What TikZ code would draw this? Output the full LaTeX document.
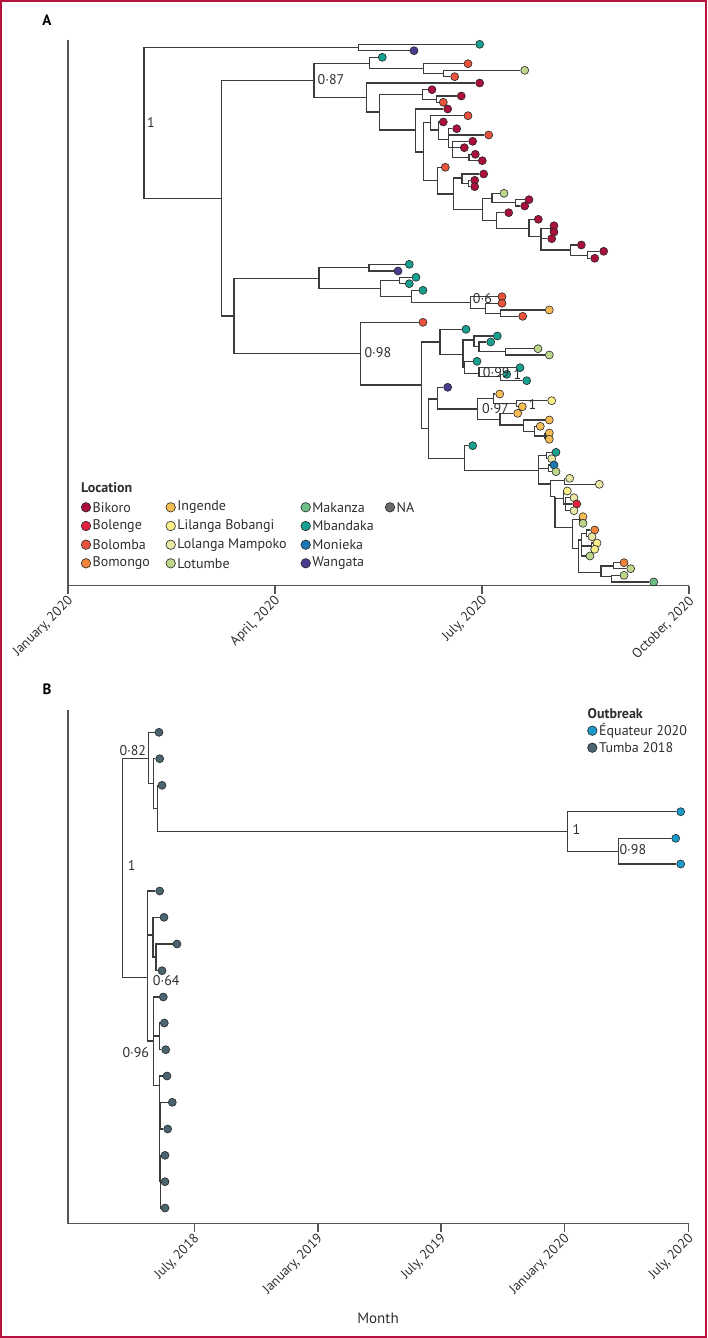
\documentclass[tikz,border=0pt]{standalone}
\usepackage{fontspec}
\setmainfont{PT Sans}
\usetikzlibrary{backgrounds}
\definecolor{framec}{HTML}{B5123F}
\definecolor{linec}{HTML}{3C3C3C}
\definecolor{axisc}{HTML}{555555}
\definecolor{txtc}{HTML}{2E2E2E}
\definecolor{BK}{HTML}{AA103C}
\definecolor{BL}{HTML}{E4203F}
\definecolor{BM}{HTML}{E8533C}
\definecolor{BG}{HTML}{F0843A}
\definecolor{IN}{HTML}{F7BD55}
\definecolor{LB}{HTML}{FAEE88}
\definecolor{LM}{HTML}{E8E8A4}
\definecolor{LT}{HTML}{BCD68A}
\definecolor{MK}{HTML}{6DBE86}
\definecolor{MB}{HTML}{17A08F}
\definecolor{MO}{HTML}{1A78B4}
\definecolor{WA}{HTML}{4B3B8C}
\definecolor{NAc}{HTML}{6A6A6A}
\definecolor{EQ}{HTML}{1A9AC8}
\definecolor{TU}{HTML}{4A6470}
\tikzset{
  br/.style={draw=linec, line width=1.1pt},
  tipc/.style={circle, draw=black!85, line width=0.6pt, minimum size=8pt, inner sep=0pt},
  legc/.style={circle, draw=black!85, line width=0.6pt, minimum size=9.5pt, inner sep=0pt},
  lab/.style={font=\fontsize{14}{16}\selectfont, text=txtc, inner sep=0pt, anchor=west},
  legt/.style={font=\fontsize{14}{16}\selectfont, text=txtc, inner sep=0pt, anchor=west},
  legh/.style={font=\bfseries\fontsize{14}{16}\selectfont, text=txtc, inner sep=0pt, anchor=west},
  ticklab/.style={font=\fontsize{13.5}{15}\selectfont, text=txtc, inner sep=0pt, anchor=east, rotate=45},
  axl/.style={draw=axisc, line width=1.3pt},
  panel/.style={font=\bfseries\fontsize{15}{17}\selectfont, text=black, inner sep=0pt},
}
\newcommand{\tp}[4]{\node[tipc,fill=#4] (#1) at (#2,#3) {};}
\newcommand{\cn}[3]{\coordinate (#1) at (#2,#3);}
\newcommand{\eds}[2]{\foreach \c in {#2} {\draw[br] (#1) |- (\c);}}
\begin{document}
\begin{tikzpicture}[x=1pt,y=-1pt]
\useasboundingbox (0,0) rectangle (707,1338);
\draw[framec, line width=2pt] (1,1) rectangle (706,1337);

% ================= PANEL A =================
\node[panel] (pA) at (47,20) {A};
\coordinate (Ayt) at (68,40);
\coordinate (Ao) at (68,585.5);
\coordinate (Axe) at (689,585.5);
\draw[axl] (Ayt) -- (Ao) -- (Axe);
\foreach \x/\t in {68/{January, 2020},275/{April, 2020},482/{July, 2020},689/{October, 2020}}{
  \draw[axl] (\x,585.5) -- (\x,593.5);
  \node[ticklab] at (\x+3,599) {\t};
}

% internal nodes
\cn{R}{144}{122.8}
\cn{N1}{358.3}{47.3}
\cn{N2}{221.7}{198.3}
\cn{N087}{314}{80.7}
\cn{N3}{369.3}{63.3}
\cn{N4}{423.3}{68.7}
\cn{N5}{443.3}{73.3}
\cn{N6}{366.7}{97.7}
\cn{N7}{379.3}{112}
\cn{N8}{422.7}{94.3}
\cn{N10}{436.7}{99.3}
\cn{N9}{415.3}{130}
\cn{N11}{423.3}{152}
\cn{N12}{430.7}{122.7}
\cn{N14}{438.3}{130}
\cn{N15}{448.7}{139.7}
\cn{N17}{452.7}{147.3}
\cn{N18}{469}{157.3}
\cn{N13}{437.3}{180.7}
\cn{N19}{453.3}{194}
\cn{N20}{462}{178}
\cn{N22}{468.7}{183.3}
\cn{N21}{482.7}{209.3}
\cn{N23}{492}{198.7}
\cn{N25}{515.7}{202.7}
\cn{N24}{496.7}{220.3}
\cn{N26}{529}{228.3}
\cn{N27}{541}{236.7}
\cn{N28}{550.7}{228.7}
\cn{N29}{570.3}{250}
\cn{N30}{587.3}{255.3}
\cn{N31}{234}{316}
\cn{N32}{319}{278.3}
\cn{N33}{369}{267.3}
\cn{N34}{380.3}{288.7}
\cn{N35}{399.3}{280.7}
\cn{N36}{411.7}{296.7}
\cn{N06}{470.7}{302.3}
\cn{N37}{485.7}{308.3}
\cn{N38}{500.7}{313.3}
\cn{N098}{360.7}{353.7}
\cn{N39}{421.7}{385}
\cn{N40}{440}{342}
\cn{N42}{463}{354.3}
\cn{N43}{474}{340}
\cn{N45}{479}{346.7}
\cn{N46}{505.7}{351.7}
\cn{N44}{464.3}{367.3}
\cn{N099}{479}{373.3}
\cn{N1b}{500.7}{376.7}
\cn{N41}{428.3}{428.3}
\cn{N47}{437.3}{399}
\cn{N097}{477.3}{409}
\cn{N49}{493.3}{398.3}
\cn{N1c}{516.7}{403.7}
\cn{N50}{500}{419.3}
\cn{N51}{523.3}{425}
\cn{N52}{534.3}{431.7}
\cn{N53}{545}{436}
\cn{N48}{464.3}{458.3}
\cn{N54}{538.3}{470.7}
\cn{N55}{546.7}{455.3}
\cn{N56}{548.7}{468.3}
\cn{N57}{550.7}{484}
\cn{N58}{564.3}{480.7}
\cn{N59}{555}{496.7}
\cn{N60}{563.3}{498.3}
\cn{N62}{565.7}{504}
\cn{N61}{572.3}{527.3}
\cn{N63}{580}{519.3}
\cn{N64}{578.3}{548.3}
\cn{N65}{581.7}{540}
\cn{N67}{586.7}{533.3}
\cn{N68}{591.7}{546}
\cn{N66}{601}{572.7}
\cn{N69}{613.3}{566}
\cn{N70}{611.3}{576.7}

% tips
\tp{a1}{479.7}{44.3}{MB}
\tp{a2}{414}{50.7}{WA}
\tp{b1}{382.3}{57.3}{MB}
\tp{b2}{468}{63.7}{BM}
\tp{b3}{524.7}{70.3}{LT}
\tp{b4}{454.7}{76.7}{BM}
\tp{c1}{479.7}{83}{BK}
\tp{c2}{432}{89.7}{BK}
\tp{c3}{461.3}{96}{BK}
\tp{c4}{443.3}{102.3}{BM}
\tp{c5}{447.7}{109}{BK}
\tp{d1}{468}{115.7}{BM}
\tp{d2}{443.3}{122}{BK}
\tp{d3}{456.7}{128.7}{BK}
\tp{d4}{488.7}{135}{BM}
\tp{d5}{472.7}{141.3}{BK}
\tp{d6}{464.3}{147.7}{BK}
\tp{d7}{475.3}{154.3}{BK}
\tp{d8}{482.3}{160.7}{BK}
\tp{e1}{445.3}{167.3}{BM}
\tp{e2}{483.7}{174}{BK}
\tp{e3}{474.7}{180.3}{BK}
\tp{e4}{474.7}{186.7}{BK}
\tp{f1}{504}{193.3}{LT}
\tp{f2}{529}{199.7}{BK}
\tp{f3}{524.7}{206}{BK}
\tp{f4}{508.7}{212.7}{BK}
\tp{f5}{538.3}{219.3}{BK}
\tp{f6}{554}{225.7}{BK}
\tp{f7}{554}{232}{BK}
\tp{f8}{551.7}{238.7}{BK}
\tp{f9}{581.3}{245}{BK}
\tp{f10}{603.7}{251.3}{BK}
\tp{f11}{594.7}{258.3}{BK}
\tp{g1}{409.3}{264.3}{MB}
\tp{g2}{398}{271}{WA}
\tp{g3}{416}{277.3}{MB}
\tp{g4}{409.3}{283.7}{MB}
\tp{g5}{423}{290.3}{MB}
\tp{h1}{502}{296.7}{BM}
\tp{h2}{502}{303.3}{BM}
\tp{h3}{549.3}{310}{IN}
\tp{h4}{522.7}{316.3}{BM}
\tp{i1}{423}{322.3}{BM}
\tp{i2}{466}{329.3}{MB}
\tp{j1}{497.3}{336}{MB}
\tp{j2}{490.7}{342}{MB}
\tp{j3}{538}{348.7}{LT}
\tp{j4}{549.3}{355}{LT}
\tp{k1}{477}{361.3}{MB}
\tp{k2}{520}{367.7}{MB}
\tp{k3}{506.7}{374.3}{MB}
\tp{k4}{526.7}{380.7}{MB}
\tp{l1}{447.7}{387.3}{WA}
\tp{m1}{499.7}{394}{IN}
\tp{m2}{551.7}{400.7}{LB}
\tp{m3}{522.3}{406.7}{IN}
\tp{m4}{517.7}{413.3}{IN}
\tp{m5}{549.3}{420}{IN}
\tp{m6}{540.3}{426.3}{IN}
\tp{m7}{549.3}{433}{IN}
\tp{m8}{549.3}{439.3}{IN}
\tp{n1}{472.7}{445.7}{MB}
\tp{n2}{556}{452.3}{MB}
\tp{n3}{551.7}{458.7}{LM}
\tp{n4}{554}{465}{MO}
\tp{n5}{556}{471.7}{LT}
\tp{n6}{569.7}{478.3}{LM}
\tp{n7}{599.3}{484.3}{LM}
\tp{o1}{567.3}{491}{LB}
\tp{o2}{574}{497.7}{LM}
\tp{o3}{576.7}{504}{BL}
\tp{o4}{574}{510.7}{LM}
\tp{p1}{583}{516.7}{IN}
\tp{p2}{583}{523.3}{LT}
\tp{p3}{594.7}{530}{BG}
\tp{p4}{592}{536.7}{LM}
\tp{p5}{597}{543}{LB}
\tp{p6}{594.7}{549.3}{LB}
\tp{p7}{590}{556}{LT}
\tp{q1}{624}{562.7}{BG}
\tp{q2}{630.7}{568.7}{LT}
\tp{q3}{624}{575.3}{LT}
\tp{q4}{653.7}{582}{MK}

\begin{pgfonlayer}{background}
\eds{R}{N1,N2}
\eds{N1}{a1,a2}
\eds{N2}{N087,N31}
\eds{N087}{N3,N6}
\eds{N3}{b1,N4}
\eds{N4}{b2,N5}
\eds{N5}{b3,b4}
\eds{N6}{c1,N7}
\eds{N7}{N8,N9}
\eds{N8}{c2,N10}
\eds{N10}{c3,c4}
\eds{N9}{c5,N11}
\eds{N11}{N12,N13}
\eds{N12}{d1,N14}
\eds{N14}{d2,N15}
\eds{N15}{d3,d4,N17}
\eds{N17}{d5,d6,N18}
\eds{N18}{d7,d8}
\eds{N13}{e1,N19}
\eds{N19}{N20,N21}
\eds{N20}{e2,N22}
\eds{N22}{e3,e4}
\eds{N21}{N23,N24}
\eds{N23}{f1,N25}
\eds{N25}{f2,f3}
\eds{N24}{f4,N26}
\eds{N26}{f5,N27}
\eds{N27}{N28,f8,N29}
\eds{N28}{f6,f7}
\eds{N29}{f9,N30}
\eds{N30}{f10,f11}
\eds{N31}{N32,N098}
\eds{N32}{N33,N34}
\eds{N33}{g1,g2}
\eds{N34}{N35,N36}
\eds{N35}{g3,g4}
\eds{N36}{g5,N06}
\eds{N06}{h1,N37}
\eds{N37}{h2,N38}
\eds{N38}{h3,h4}
\eds{N098}{i1,N39}
\eds{N39}{N40,N41}
\eds{N40}{i2,N42}
\eds{N42}{N43,N44}
\eds{N43}{j1,N45}
\eds{N45}{j2,N46}
\eds{N46}{j3,j4}
\eds{N44}{k1,N099}
\eds{N099}{k2,N1b}
\eds{N1b}{k3,k4}
\eds{N41}{N47,N48}
\eds{N47}{l1,N097}
\eds{N097}{N49,N50}
\eds{N49}{m1,N1c}
\eds{N1c}{m2,m3}
\eds{N50}{m4,N51}
\eds{N51}{m5,N52}
\eds{N52}{m6,N53}
\eds{N53}{m7,m8}
\eds{N48}{n1,N54}
\eds{N54}{N55,N56,N57}
\eds{N55}{n2,n3}
\eds{N56}{n4,n5}
\eds{N57}{N58,N59}
\eds{N58}{n6,n7}
\eds{N59}{N60,N61}
\eds{N60}{o1,N62}
\eds{N62}{o2,o3,o4}
\eds{N61}{N63,N64}
\eds{N63}{p1,p2}
\eds{N64}{N65,N66}
\eds{N65}{N67,N68,p7}
\eds{N67}{p3,p4}
\eds{N68}{p5,p6}
\eds{N66}{N69,N70}
\eds{N69}{q1,q2}
\eds{N70}{q3,q4}
\end{pgfonlayer}

% support labels A
\node[lab] (sR) at (147,122.3) {1};
\node[lab] (s087) at (317.5,79.3) {0·87};
\node[lab] (s06) at (472.7,299) {0·6};
\node[lab] (s098) at (364.3,352.3) {0·98};
\node[lab] (s099) at (482.7,372.7) {0·99};
\node[lab] (s1b) at (513.3,375) {1};
\node[lab] (s097) at (482,408.3) {0·97};
\node[lab] (s1c) at (528.3,405) {1};

% legend A
\node[legh] (locT) at (81,488) {Location};
\foreach \cx/\cy/\cc/\tt in {
 86/507.3/BK/Bikoro, 86/526/BL/Bolenge, 86/544.7/BM/Bolomba, 86/563.3/BG/Bomongo,
 170.7/507.3/IN/Ingende, 170.7/526/LB/Lilanga Bobangi, 170.7/544.7/LM/Lolanga Mampoko, 170.7/563.3/LT/Lotumbe,
 305.7/507.3/MK/Makanza, 305.7/526/MB/Mbandaka, 305.7/544.7/MO/Monieka, 305.7/563.3/WA/Wangata,
 390/507.3/NAc/NA}{
  \node[legc, fill=\cc] at (\cx,\cy) {};
  \node[legt] at (\cx+6.5,\cy) {\tt};
}

% ================= PANEL B =================
\node[panel] (pB) at (47,689) {B};
\coordinate (Byt) at (68,710);
\coordinate (Bo) at (68,1223.7);
\coordinate (Bxe) at (689,1223.7);
\draw[axl] (Byt) -- (Bo) -- (Bxe);
\foreach \x/\t in {194.3/{July, 2018},317.9/{January, 2019},441/{July, 2019},564.5/{January, 2020},688.5/{July, 2020}}{
  \draw[axl] (\x,1223.7) -- (\x,1231.7);
  \node[ticklab] at (\x+3,1237) {\t};
}
\node[font=\fontsize{15}{17}\selectfont, text=txtc] (month) at (378,1318) {Month};

\cn{BR}{122.7}{868}
\cn{B1}{148.3}{758.3}
\cn{B2}{153.3}{783.3}
\cn{B3}{157.3}{808.3}
\cn{BE}{567.3}{831.7}
\cn{BE2}{618.3}{851.2}
\cn{B4}{147.7}{977.7}
\cn{B5}{153}{935}
\cn{B6}{156}{957}
\cn{B7}{153.3}{1041}
\cn{B8}{159.3}{1036}
\cn{B9}{159.3}{1085.7}
\cn{B10}{160.5}{1116}
\cn{B11}{160.3}{1181.7}

\tp{T1}{159}{732.3}{TU}
\tp{T2}{159.7}{758.7}{TU}
\tp{T3}{162}{785.3}{TU}
\tp{E1}{680.7}{811.7}{EQ}
\tp{E2}{675.7}{838.3}{EQ}
\tp{E3}{680.7}{864}{EQ}
\tp{L1}{159.7}{891}{TU}
\tp{L2}{164}{917.3}{TU}
\tp{L3}{177}{944}{TU}
\tp{L4}{162}{970.7}{TU}
\tp{L5}{163.3}{997}{TU}
\tp{L6}{164.3}{1023}{TU}
\tp{L7}{165.7}{1049.7}{TU}
\tp{L8}{167}{1076}{TU}
\tp{L9}{172.3}{1102.3}{TU}
\tp{L10}{167.7}{1129}{TU}
\tp{L11}{165}{1155.3}{TU}
\tp{L12}{165}{1181.7}{TU}
\tp{L13}{165}{1208}{TU}

\begin{pgfonlayer}{background}
\eds{BR}{B1,B4}
\eds{B1}{T1,B2}
\eds{B2}{T2,B3}
\eds{B3}{T3,BE}
\eds{BE}{E1,BE2}
\eds{BE2}{E2,E3}
\eds{B4}{L1,B5,B7}
\eds{B5}{L2,B6}
\eds{B6}{L3,L4}
\eds{B7}{L5,B8,B9}
\eds{B8}{L6,L7}
\eds{B9}{L8,B10,B11}
\eds{B10}{L9,L10}
\eds{B11}{L11,L12,L13}
\end{pgfonlayer}

\node[lab] (s082) at (119.3,750.7) {0·82};
\node[lab] (sBR) at (127.7,866) {1};
\node[lab] (s064) at (152.7,980.7) {0·64};
\node[lab] (s096) at (122.3,1052.7) {0·96};
\node[lab] (sBE) at (572.3,830) {1};
\node[lab] (sBE2) at (619.3,850) {0·98};

% legend B
\node[legh] (obT) at (587.5,714) {Outbreak};
\node[legc, fill=EQ] (lgE) at (592.3,730.7) {};
\node[legt] at (599,730.7) {Équateur 2020};
\node[legc, fill=TU] (lgT) at (592.3,747.7) {};
\node[legt] at (599,747.7) {Tumba 2018};
\end{tikzpicture}
\end{document}
